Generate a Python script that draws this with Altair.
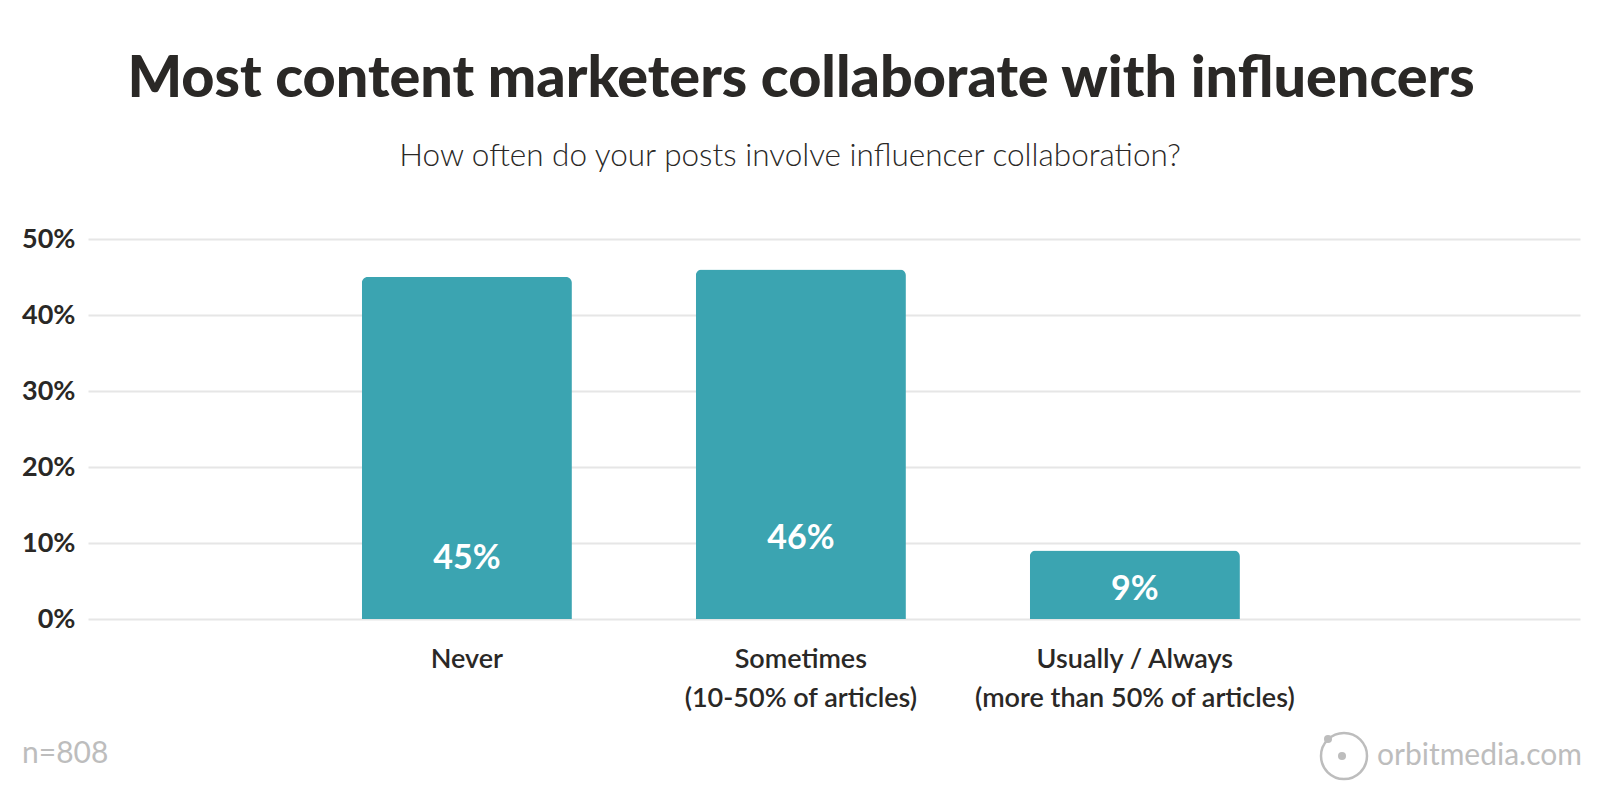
import altair as alt
import pandas as pd

# ---- data ----
categories = ["Never", "Sometimes|(10-50% of articles)", "Usually / Always|(more than 50% of articles)"]
values = [45, 46, 9]
value_labels = ["45%", "46%", "9%"]
label_anchor = [7.9, 10.5, 3.8]  # where each value label sits inside its bar (in % units)
y_ticks = [0, 10, 20, 30, 40, 50]
title_text = "Most content marketers collaborate with influencers"
subtitle_text = "How often do your posts involve influencer collaboration?"
sample_note = "n=808"
brand = "orbitmedia.com"

df = pd.DataFrame({"category": categories, "value": values,
                   "label": value_labels, "label_y": label_anchor})

W, H = 1492, 380
TEAL = "#3ba4b1"
DARK = "#2a2826"
GREY = "#bdbdbd"
FONT = "Lato"

x_enc = alt.X(
    "category:N", sort=categories, title=None,
    scale=alt.Scale(paddingInner=0.371, paddingOuter=0.919, align=0.446),
    axis=alt.Axis(labelAngle=0, labelExpr="split(datum.label, '|')",
                  labelFont=FONT, labelFontSize=27, labelFontWeight=600,
                  labelColor=DARK, labelLineHeight=39, labelPadding=27,
                  labelBaseline="top", domain=False, ticks=False, grid=False,
                  labelLimit=0),
)
y_enc = alt.Y(
    "value:Q", title=None,
    scale=alt.Scale(domain=[0, 50], nice=False),
    axis=alt.Axis(values=y_ticks, labelExpr="datum.value + '%'",
                  labelFont=FONT, labelFontSize=27, labelFontWeight="bold",
                  labelColor=DARK, labelPadding=13, grid=True,
                  gridColor="#e6e6e6", gridWidth=2, domain=False, ticks=False),
)

bars = alt.Chart(df).mark_bar(
    color=TEAL, cornerRadiusTopLeft=6, cornerRadiusTopRight=6
).encode(x=x_enc, y=y_enc)

labels = alt.Chart(df).mark_text(
    color="white", font=FONT, fontSize=34, fontWeight="bold", baseline="middle"
).encode(
    x=alt.X("category:N", sort=categories),
    y=alt.Y("label_y:Q"),
    text="label:N",
)


def note(text, x, y, **kw):
    return alt.Chart(pd.DataFrame({"t": [text]})).mark_text(**kw).encode(
        x=alt.value(x), y=alt.value(y), text="t:N"
    )


title_mark = note(title_text, 713, -142, font=FONT, fontSize=57.5, fontWeight=900,
                  color=DARK, align="center", baseline="alphabetic")
subtitle_mark = note(subtitle_text, 702, -73, font=FONT, fontSize=31.5, fontWeight=300,
                     color=DARK, align="center", baseline="alphabetic")
n_mark = note(sample_note, -66, 524, font=FONT, fontSize=30, fontWeight=400,
              color=GREY, align="left", baseline="alphabetic")
brand_mark = note(brand, 1289, 526, font=FONT, fontSize=30, fontWeight=400,
                  color=GREY, align="left", baseline="alphabetic")

one = pd.DataFrame({"k": [0]})
logo_ring = alt.Chart(one).mark_point(
    shape="circle", filled=False, color=GREY, strokeWidth=2.5, opacity=1
).encode(x=alt.value(1256), y=alt.value(517), size=alt.value(2116))
logo_dot = alt.Chart(one).mark_point(
    shape="circle", filled=True, color=GREY, opacity=1
).encode(x=alt.value(1254), y=alt.value(517), size=alt.value(64))
logo_orbit = alt.Chart(one).mark_point(
    shape="circle", filled=True, color=GREY, opacity=1
).encode(x=alt.value(1240), y=alt.value(500), size=alt.value(64))

chart = alt.layer(
    bars, labels, title_mark, subtitle_mark, n_mark, brand_mark,
    logo_ring, logo_dot, logo_orbit
).properties(
    width=W, height=H,
    padding={"left": 80, "top": 231, "right": 12, "bottom": 173},
    autosize=alt.AutoSizeParams(type="none"),
    background="white",
).configure_view(stroke=None)

chart.save("out.html", embed_options={"renderer": "svg", "actions": False})
